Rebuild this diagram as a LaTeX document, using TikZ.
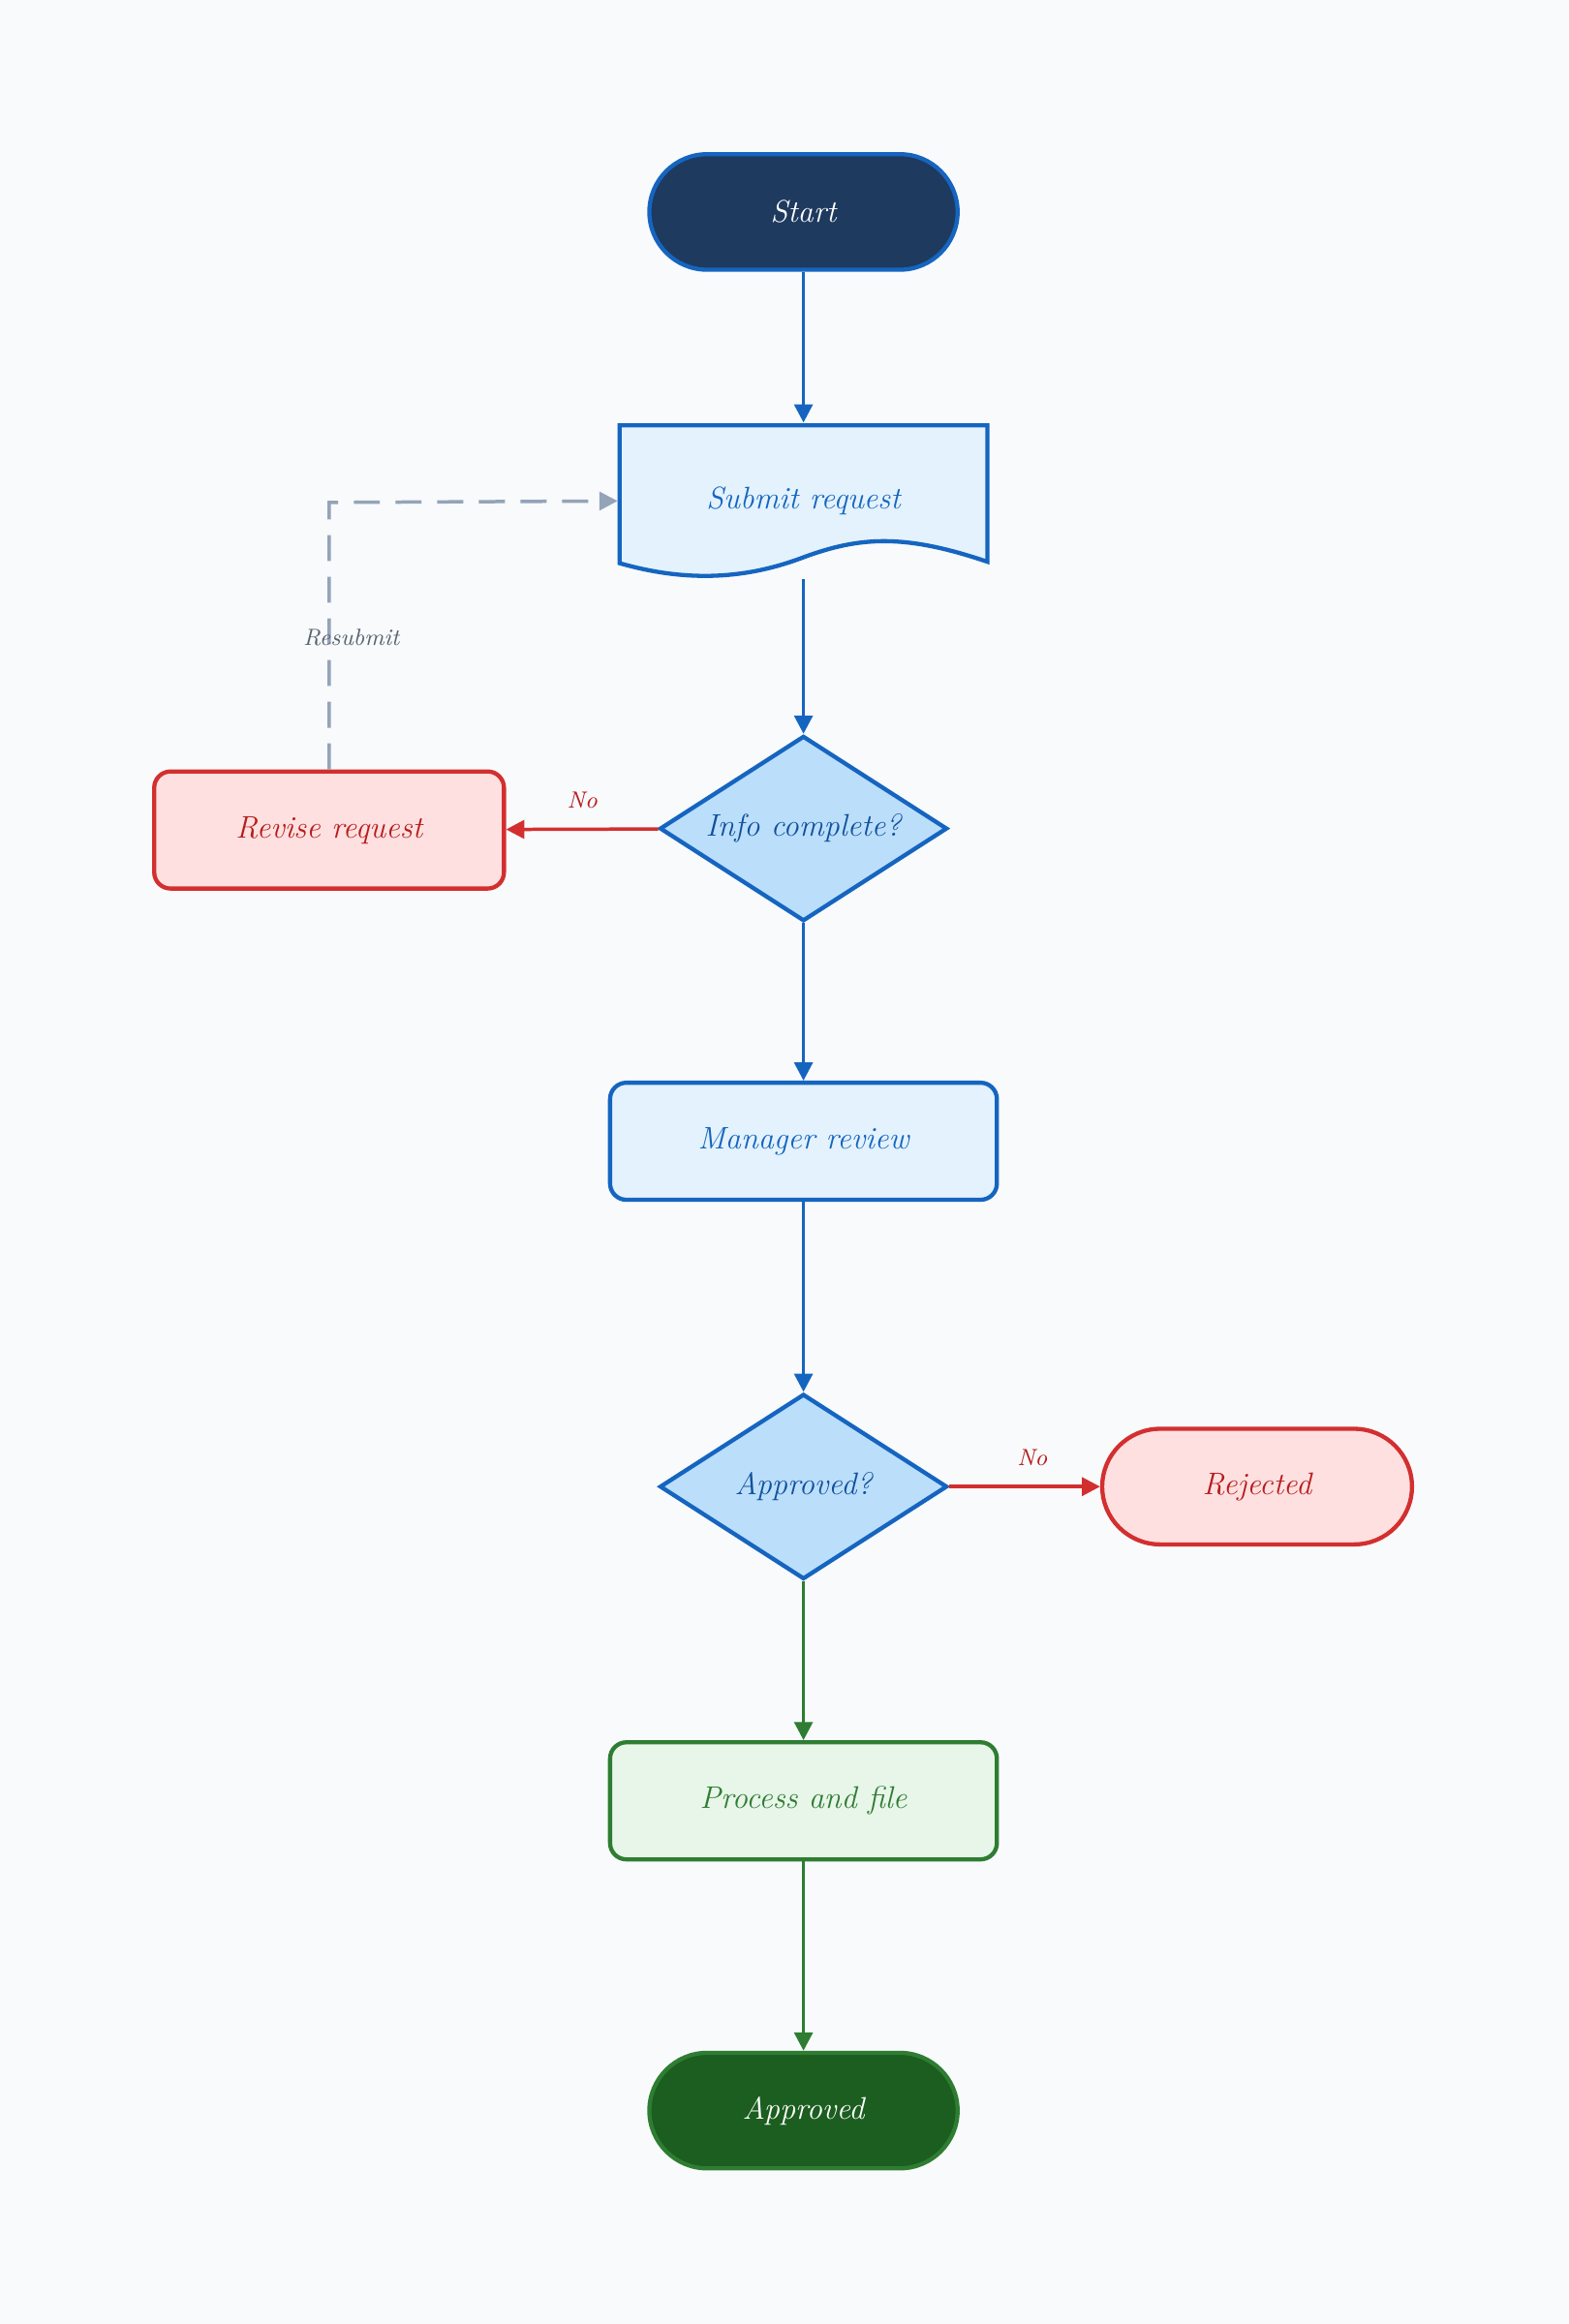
\documentclass[tikz,border=0pt]{standalone}
\usetikzlibrary{shapes.geometric,arrows.meta}
\definecolor{bgcol}{HTML}{F8FAFC}
\definecolor{bluedk}{HTML}{1565C0}
\definecolor{navy}{HTML}{1E3A5F}
\definecolor{bluelt}{HTML}{E3F2FD}
\definecolor{bluemd}{HTML}{BBDEFB}
\definecolor{reddk}{HTML}{D32F2F}
\definecolor{redtxt}{HTML}{B71C1C}
\definecolor{redlt}{HTML}{FFE0E0}
\definecolor{greendk}{HTML}{2E7D32}
\definecolor{greenlt}{HTML}{E8F5E9}
\definecolor{greenfill}{HTML}{1B5E20}
\definecolor{graydash}{HTML}{94A3B8}
\tikzset{
  base/.style={line width=1.6pt,font=\large\itshape,align=center},
  term/.style={base,rectangle,rounded corners=0.78cm,minimum width=4.16cm,minimum height=1.56cm},
  box/.style={base,rectangle,rounded corners=0.22cm,minimum width=5.22cm,minimum height=1.58cm},
  decide/.style={base,diamond,aspect=1.55,minimum width=3.88cm,minimum height=2.5cm,draw=bluedk,fill=bluemd,text=bluedk!80!black},
  flow/.style={line width=1.3pt,-{Triangle[length=7pt,width=7pt]}},
  lbl/.style={font=\small\itshape}
}
\begin{document}
\begin{tikzpicture}[x=0.02cm,y=-0.02cm]
\fill[bgcol] (0,0) rectangle (1058,1568);

% terminals and steps
\node[term,draw=bluedk,fill=navy,text=white] (start) at (542,143) {Start};

\draw[base,draw=bluedk,fill=bluelt] (418,287) -- (666,287) -- (666,379)
  .. controls (610,360) and (580,362) .. (542,376)
  .. controls (500,392) and (460,392) .. (418,380) -- cycle;
\node[base,minimum width=4.96cm,minimum height=2.06cm,text=bluedk] (submit) at (542,338) {Submit request};

\node[decide] (info) at (542,559) {Info complete?};
\node[box,draw=reddk,fill=redlt,text=redtxt,minimum width=4.72cm] (revise) at (222,560) {Revise request};
\node[box,draw=bluedk,fill=bluelt,text=bluedk] (review) at (542,770) {Manager review};
\node[decide] (appr) at (542,1003) {Approved?};
\node[term,draw=reddk,fill=redlt,text=redtxt,minimum width=4.18cm] (reject) at (848,1003) {Rejected};
\node[box,draw=greendk,fill=greenlt,text=greendk] (process) at (542,1215) {Process and file};
\node[term,draw=greendk,fill=greenfill,text=white] (done) at (542,1424) {Approved};

% connectors
\draw[flow,bluedk] (start) -- (submit.north);
\draw[flow,bluedk] (542,391) -- (info.north);
\draw[flow,bluedk] (info) -- (review);
\draw[flow,bluedk] (review) -- (appr);
\draw[flow,greendk] (appr) -- (process);
\draw[flow,greendk] (process) -- (done);
\draw[flow,reddk] (info) -- node[lbl,above=4pt,pos=0.5,text=redtxt]{No} (revise);
\draw[flow,reddk] (appr) -- node[lbl,above=4pt,pos=0.55,text=redtxt]{No} (reject);
\draw[flow,graydash,dash pattern=on 10pt off 6pt] (revise.north) -- (222,339)
  -- (submit.west);
\node[lbl,text=graydash!60!black] (resub) at (237,430) {Resubmit};
\end{tikzpicture}
\end{document}
